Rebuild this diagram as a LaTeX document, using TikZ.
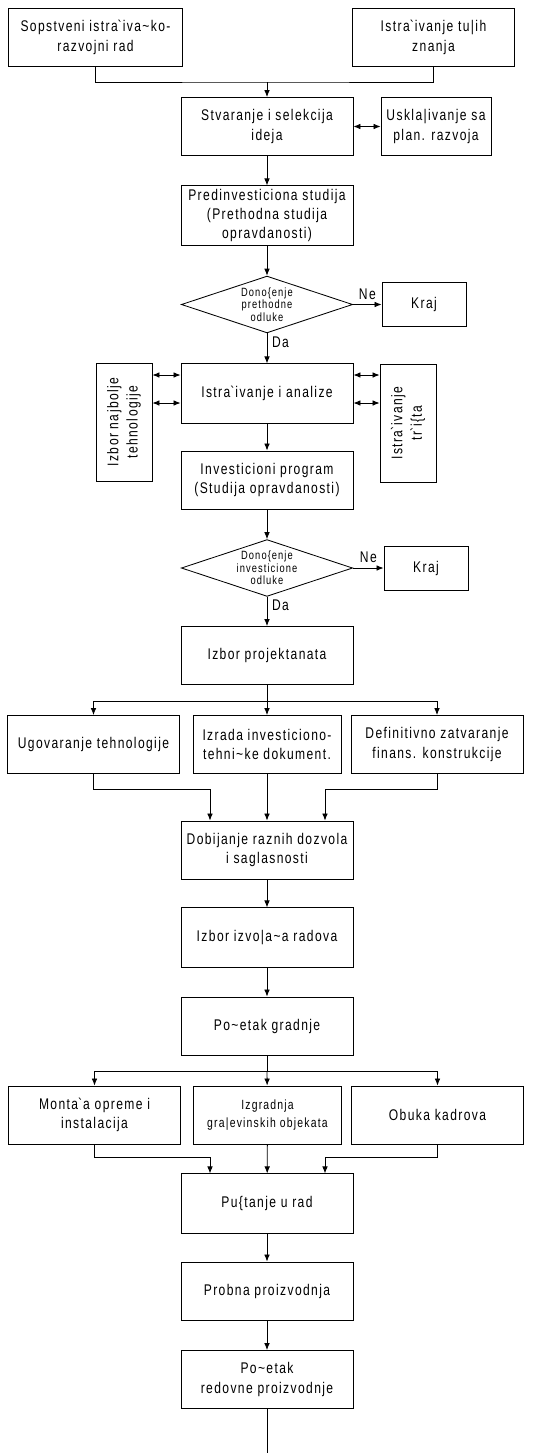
\documentclass[tikz,border=0pt]{standalone}
\usepackage{fontspec}
\setmainfont{Liberation Sans}[FakeStretch=0.78,LetterSpace=9]
\usetikzlibrary{shapes.geometric,arrows.meta}
\newcommand{\zhh}{\textasciigrave}
\newcommand{\chh}{\textasciitilde}
\newcommand{\djj}{\textbar}
\newcommand{\shh}{\{}

\begin{document}
\begin{tikzpicture}[x=0.025cm,y=-0.025cm,line width=0.6pt,>={Latex[length=5pt,width=4pt]},
    font=\fontsize{11}{13.8}\selectfont,
    box/.style={draw,align=center,inner sep=1pt,minimum width=4.3cm,minimum height=1.45cm},
    midbox/.style={box,minimum width=3.7cm},
    smallbox/.style={box,minimum width=2.75cm},
    endbox/.style={box,minimum width=2.1cm,minimum height=1.1cm},
    sidebox/.style={box,rotate=90,minimum width=2.95cm,minimum height=1.4cm},
    decision/.style={draw,diamond,aspect=3,inner sep=0pt,align=center,
      minimum width=4.28cm,minimum height=1.42cm,font=\fontsize{8.5}{8.8}\selectfont}]
    \useasboundingbox (0,0) rectangle (546,1453);
    \node[box,minimum width=4.33cm] (own) at (95.5,37.5) {Sopstveni istra\zhh iva\chh ko-\\razvojni rad};
    \node[box,minimum width=4.03cm] (foreign) at (433.5,37.5) {Istra\zhh ivanje tu\djj ih\\znanja};
    \node[box] (ideas) at (267,126.5) {Stvaranje i selekcija\\ideja};
    \node[smallbox] (plan) at (436,126.5) {Uskla\djj ivanje sa\\plan. razvoja};
    \node[box,minimum height=1.48cm] (prestudy) at (267,215.5) {Predinvesticiona studija\\(Prethodna studija\\opravdanosti)};
    \node[decision] (dec1) at (267,304.5) {Dono\shh enje\\prethodne\\odluke};
    \node[endbox] (end1) at (424,304.5) {Kraj};
    \node[box,minimum height=1.48cm] (research) at (267,393.5) {Istra\zhh ivanje i analize};
    \node[sidebox] (tech) at (124,422) {Izbor najbolje\\tehnologije};
    \node[sidebox] (market) at (408,423) {Istra\zhh ivanje\\tr\zhh i\shh ta};
    \node[box] (program) at (267,480) {Investicioni program\\(Studija opravdanosti)};
    \node[decision] (dec2) at (267,568) {Dono\shh enje\\investicione\\odluke};
    \node[endbox] (end2) at (426,568) {Kraj};
    \node[box] (designers) at (267,655.5) {Izbor projektanata};
    \node[box] (contract) at (93.5,744.5) {Ugovaranje tehnologije};
    \node[midbox] (docs) at (267,744.5) {Izrada investiciono-\\tehni\chh ke dokument.};
    \node[box] (finance) at (437,744.5) {Definitivno zatvaranje\\finans. konstrukcije};
    \node[box] (permits) at (267,850) {Dobijanje raznih dozvola\\i saglasnosti};
    \node[box,minimum height=1.48cm] (contractors) at (267,937.5) {Izbor izvo\djj a\chh a radova};
    \node[box] (start) at (267,1026) {Po\chh etak gradnje};
    \node[box] (install) at (94.5,1115) {Monta\zhh a opreme i\\instalacija};
    \node[midbox,font=\fontsize{9.5}{13}\selectfont] (build) at (267.5,1115) {Izgradnja\\gra\djj evinskih objekata};
    \node[box] (training) at (437.5,1115) {Obuka kadrova};
    \node[box,minimum height=1.48cm] (launch) at (267,1203.5) {Pu\shh tanje u rad};
    \node[box] (trial) at (267,1291) {Probna proizvodnja};
    \node[box] (regular) at (267,1379.5) {Po\chh etak\\redovne proizvodnje};
    \coordinate (join1) at (267,82);
    \coordinate (split1) at (267,701);
    \coordinate (merge1l) at (210,789);
    \coordinate (merge1r) at (325,789);
    \coordinate (split2) at (267,1071);
    \coordinate (merge2l) at (210,1157);
    \coordinate (merge2r) at (325,1157);
    \coordinate (bottom) at (267,1453);
    \draw (own.south) |- (join1) -| (foreign.south);
    \draw[->] (join1) -- (ideas);
    \draw[<->] (ideas) -- (plan);
    \draw[->] (ideas) -- (prestudy);
    \draw[->] (prestudy) -- (dec1);
    \draw[->] (dec1) -- node[above] {Ne} (end1);
    \draw[->] (dec1) -- node[right,pos=0.3] {Da} (research);
    \path (research.west) ++(0,-18.5) coordinate (rl1) ++(0,28) coordinate (rl2);
    \path (research.east) ++(0,-18.5) coordinate (rr1) ++(0,28) coordinate (rr2);
    \draw[<->] (tech.south |- rl1) -- (rl1);
    \draw[<->] (tech.south |- rl2) -- (rl2);
    \draw[<->] (rr1) -- (market.north |- rr1);
    \draw[<->] (rr2) -- (market.north |- rr2);
    \draw[->] (research) -- (program);
    \draw[->] (program) -- (dec2);
    \draw[->] (dec2) -- node[above] {Ne} (end2);
    \draw[->] (dec2) -- node[right,pos=0.3] {Da} (designers);
    \draw (designers) -- (split1);
    \draw[->] (split1) -- (docs);
    \draw[->] (split1) -| (contract);
    \draw[->] (split1) -| (finance);
    \draw[->] (contract) |- (merge1l) -- (merge1l |- permits.north);
    \draw[->] (docs) -- (permits);
    \draw[->] (finance) |- (merge1r) -- (merge1r |- permits.north);
    \draw[->] (permits) -- (contractors);
    \draw[->] (contractors) -- (start);
    \draw (start) -- (split2);
    \draw[->] (split2) -- (build);
    \draw[->] (split2) -| (install);
    \draw[->] (split2) -| (training);
    \draw[->] (install) |- (merge2l) -- (merge2l |- launch.north);
    \draw[->] (build) -- (launch);
    \draw[->] (training) |- (merge2r) -- (merge2r |- launch.north);
    \draw[->] (launch) -- (trial);
    \draw[->] (trial) -- (regular);
    \draw (regular) -- (bottom);
\end{tikzpicture}
\end{document}
